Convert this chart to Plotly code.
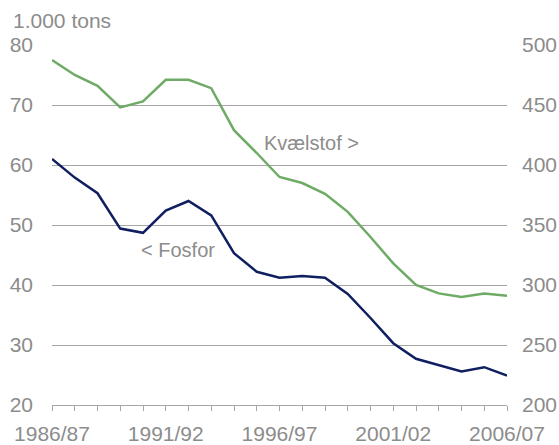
import plotly.graph_objects as go

years = ["1986/87", "1987/88", "1988/89", "1989/90", "1990/91", "1991/92", "1992/93",
         "1993/94", "1994/95", "1995/96", "1996/97", "1997/98", "1998/99", "1999/00",
         "2000/01", "2001/02", "2002/03", "2003/04", "2004/05", "2005/06", "2006/07"]
fosfor = [61.0, 57.9, 55.3, 49.4, 48.7, 52.4, 54.0, 51.6, 45.3, 42.2, 41.2, 41.5,
          41.2, 38.5, 34.5, 30.3, 27.7, 26.6, 25.6, 26.3, 24.9]
kvaelstof = [487.5, 475, 466, 448, 453, 471, 471, 464, 429, 410, 390, 385, 376,
             361, 340, 318, 300, 293, 290, 293, 291]
tick_labels = [y if i % 5 == 0 else "" for i, y in enumerate(years)]

FONT = "Liberation Sans, Arial, sans-serif"
GRAY = "#8c8c8c"
GRID = "#a6a6a6"
FS = 21
FA = 20

fig = go.Figure()
fig.add_trace(go.Scatter(x=years, y=kvaelstof, mode="lines", yaxis="y2",
                         line=dict(color="#6fab66", width=2.5), name="Kvælstof"))
fig.add_trace(go.Scatter(x=years, y=fosfor, mode="lines",
                         line=dict(color="#0f1f5f", width=2.5), name="Fosfor"))

fig.update_layout(
    width=559, height=445,
    margin=dict(l=52, r=52, t=45, b=40, pad=0),
    paper_bgcolor="white", plot_bgcolor="white",
    showlegend=False,
    font=dict(family=FONT, size=FS, color=GRAY),
    xaxis=dict(type="category", range=[0, 20], tickmode="array",
               tickvals=years, ticktext=tick_labels, automargin=False,
               ticks="outside", ticklen=5, tickcolor=GRID, showgrid=False,
               showline=True, linecolor=GRID, linewidth=1,
               tickfont=dict(size=FS, color=GRAY), ticklabelstandoff=5,
               zeroline=False),
    yaxis=dict(range=[20, 80], dtick=10, tick0=20, showgrid=True, gridcolor=GRID,
               gridwidth=1, zeroline=False, showline=False, ticks="", automargin=False,
               tickfont=dict(size=FS, color=GRAY), ticklabelstandoff=18),
    yaxis2=dict(range=[200, 500], dtick=50, tick0=200, overlaying="y", side="right",
                showgrid=False, zeroline=False, showline=False, ticks="", automargin=False,
                tickfont=dict(size=FS, color=GRAY), ticklabelstandoff=14),
    annotations=[
        dict(text="1.000 tons", xref="paper", yref="paper", x=-0.09, y=1.069,
             xanchor="left", yanchor="middle", showarrow=False,
             font=dict(size=FS, color=GRAY)),
        dict(text="Kvælstof >", xref="paper", yref="paper", x=0.571, y=0.728,
             xanchor="center", yanchor="middle", showarrow=False,
             font=dict(size=FA, color=GRAY)),
        dict(text="< Fosfor", xref="paper", yref="paper", x=0.277, y=0.431,
             xanchor="center", yanchor="middle", showarrow=False,
             font=dict(size=FA, color=GRAY)),
    ],
)

fig.write_html("out.html", config={"displayModeBar": False},
               post_script="document.body.style.margin='0';document.body.style.overflow='hidden';")
